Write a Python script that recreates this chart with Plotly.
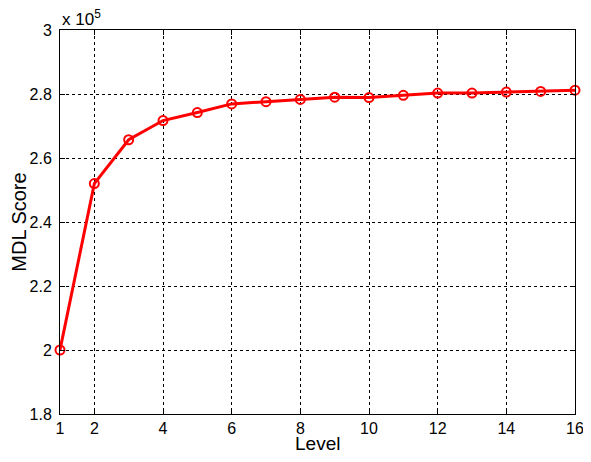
import plotly.graph_objects as go

levels = list(range(1, 17))
mdl_scores = [200000, 252000, 265700, 271700, 274200, 276900, 277600, 278300,
              279000, 278900, 279600, 280300, 280300, 280600, 280800, 281200]
y_tickvals = [180000, 200000, 220000, 240000, 260000, 280000, 300000]
y_ticktext = ["1.8", "2", "2.2", "2.4", "2.6", "2.8", "3"]
x_tickvals = [1, 2, 4, 6, 8, 10, 12, 14, 16]

font = "Liberation Sans, Arial, Helvetica, sans-serif"

fig = go.Figure()
fig.add_trace(go.Scatter(
    x=levels, y=mdl_scores, mode="lines+markers",
    line=dict(color="#ff0000", width=3),
    marker=dict(symbol="circle-open", size=9, color="#ff0000", line=dict(width=2)),
    cliponaxis=False,
))

axis_common = dict(
    showline=True, linecolor="black", linewidth=1, mirror="ticks",
    ticks="inside", ticklen=5, tickcolor="black",
    showgrid=True, gridcolor="black", griddash="dot", gridwidth=1,
    zeroline=False, tickfont=dict(family=font, size=16, color="black"),
    automargin=False, ticklabeloverflow="allow",
)

fig.update_layout(
    width=583, height=446,
    margin=dict(l=52, r=16, t=22, b=40),
    plot_bgcolor="white", paper_bgcolor="white",
    showlegend=False,
    xaxis=dict(range=[1, 16], tickvals=x_tickvals, ticklabelstandoff=0,
               **axis_common),
    yaxis=dict(range=[180000, 300000], tickvals=y_tickvals, ticktext=y_ticktext, ticklabelstandoff=4,
               title=dict(text="MDL Score", font=dict(family=font, size=20, color="black"), standoff=6),
               **axis_common),
    annotations=[
        dict(text="x 10<sup>5</sup>", xref="paper", yref="paper", x=0, y=1,
             xanchor="left", yanchor="bottom", showarrow=False, yshift=-1,
             font=dict(family=font, size=17, color="black")),
        dict(text="Level", xref="paper", yref="paper", x=0.5, y=0,
             xanchor="center", yanchor="top", showarrow=False, yshift=-18, borderpad=0,
             font=dict(family=font, size=19, color="black")),
    ],
)

fig.write_html("out.html")
